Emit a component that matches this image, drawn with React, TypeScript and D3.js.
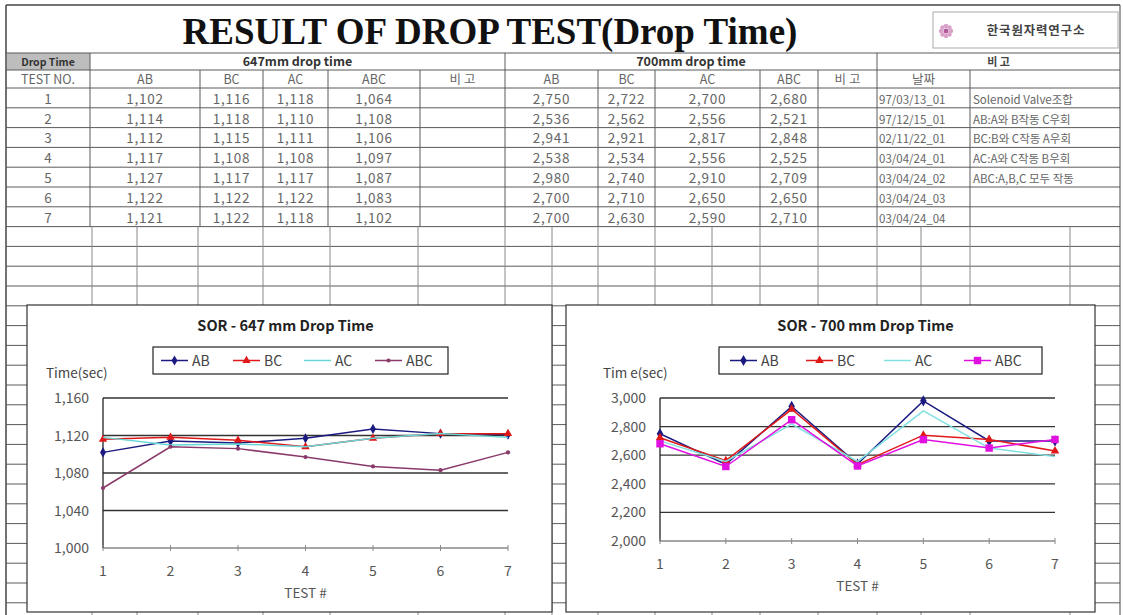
import React from "react";
import * as d3 from "d3";

// ---------- data ----------
const tests = [1, 2, 3, 4, 5, 6, 7];
const seriesNames = ["AB", "BC", "AC", "ABC"];
const ab647 = [1.102, 1.114, 1.112, 1.117, 1.127, 1.122, 1.121];
const bc647 = [1.116, 1.118, 1.115, 1.108, 1.117, 1.122, 1.122];
const ac647 = [1.118, 1.11, 1.111, 1.108, 1.117, 1.122, 1.118];
const abc647 = [1.064, 1.108, 1.106, 1.097, 1.087, 1.083, 1.102];
const ab700 = [2.75, 2.536, 2.941, 2.538, 2.98, 2.7, 2.7];
const bc700 = [2.722, 2.562, 2.921, 2.534, 2.74, 2.71, 2.63];
const ac700 = [2.7, 2.556, 2.817, 2.556, 2.91, 2.65, 2.59];
const abc700 = [2.68, 2.521, 2.848, 2.525, 2.709, 2.65, 2.71];
const dates = ["97/03/13_01", "97/12/15_01", "02/11/22_01", "03/04/24_01", "03/04/24_02", "03/04/24_03", "03/04/24_04"];
const notes = ["Solenoid Valve조합", "AB:A와 B작동 C우회", "BC:B와 C작동 A우회", "AC:A와 C작동 B우회", "ABC:A,B,C 모두 작동", "", ""];
const yTicks647 = [1.0, 1.04, 1.08, 1.12, 1.16];
const yTicks700 = [2.0, 2.2, 2.4, 2.6, 2.8, 3.0];

const FONT = "'Noto Sans CJK KR', 'Noto Sans', sans-serif";
const fmt = (v: number) => d3.format(".3f")(v).replace(".", ",");

// ---------- table layout ----------
const X0 = 6, X1 = 1120;
const colX = [6, 90, 200, 263, 328, 420, 505, 598, 655, 760, 818, 877, 970, 1120];
const lowerColX = [6, 92, 137, 198, 263, 330, 418, 505, 552, 598, 655, 712, 760, 818, 877, 921, 970, 1070, 1120];
const H0 = 53, H1 = 70, H2 = 88, RH = 19.8;
const rowLines = d3.range(H2, 616, RH);
const dataEnd = H2 + 7 * RH;

const LINE = "#5a5a5a";
const TXT = "#666";

function Table() {
  const cx = (i: number) => (colX[i] + colX[i + 1]) / 2;
  const header2 = ["TEST NO.", "AB", "BC", "AC", "ABC", "비 고", "AB", "BC", "AC", "ABC", "비 고", "날짜", ""];
  const cols647 = [ab647, bc647, ac647, abc647];
  const cols700 = [ab700, bc700, ac700, abc700];
  return (
    <g fontFamily={FONT}>
      {/* outer borders */}
      <line x1={X0} x2={X1} y1={5} y2={5} stroke="#444" strokeWidth={1.5} />
      <line x1={X0} x2={X0} y1={5} y2={615} stroke="#444" strokeWidth={1.5} />
      <line x1={X1} x2={X1} y1={5} y2={615} stroke="#444" strokeWidth={1} />
      {/* title */}
      <text x={490} y={44} textAnchor="middle" fontFamily="'Liberation Serif', serif" fontWeight="bold" fontSize={37} fill="#111">
        RESULT OF DROP TEST(Drop Time)
      </text>
      {/* logo */}
      <rect x={933} y={12} width={185} height={36} fill="#fff" stroke="#aaa" strokeWidth={1} />
      <g transform="translate(946,31)">
        {d3.range(8).map((i) => (
          <circle key={i} cx={5 * Math.cos((i * Math.PI) / 4)} cy={5 * Math.sin((i * Math.PI) / 4)} r={2.2} fill="#d9a0c8" />
        ))}
        <circle r={2.5} fill="#b35a9a" />
      </g>
      <text x={1036} y={35} textAnchor="middle" fontSize={12.5} fontWeight="bold" fill="#444" letterSpacing={0.8}>한국원자력연구소</text>

      {/* header row 1 */}
      <rect x={X0 + 1} y={H0} width={colX[1] - X0 - 1} height={H1 - H0} fill="#bdbdbd" />
      <text x={(X0 + colX[1]) / 2} y={H1 - 4} textAnchor="middle" fontSize={10.5} fontWeight="bold" fill="#333">Drop Time</text>
      <text x={(colX[1] + colX[6]) / 2} y={H1 - 4} textAnchor="middle" fontSize={12.5} fontWeight="bold" fill="#333">647mm drop time</text>
      <text x={(colX[6] + colX[11]) / 2} y={H1 - 4} textAnchor="middle" fontSize={12.5} fontWeight="bold" fill="#333">700mm drop time</text>
      <text x={(colX[11] + colX[13]) / 2} y={H1 - 4} textAnchor="middle" fontSize={11} fontWeight="bold" fill="#444">비 고</text>

      {/* header row 2 */}
      {header2.map((h, i) => (
        <text key={i} x={cx(i)} y={H2 - 4} textAnchor="middle" fontSize={12.5} fill={TXT}>{h}</text>
      ))}

      {/* data rows */}
      {tests.map((t, r) => {
        const y = H2 + (r + 1) * RH - 4;
        return (
          <g key={t} fontSize={13.5} fill={TXT}>
            <text x={cx(0)} y={y} textAnchor="middle">{t}</text>
            {cols647.map((c, j) => (
              <text key={"a" + j} x={cx(1 + j)} y={y} textAnchor="middle" letterSpacing={0.8}>{fmt(c[r])}</text>
            ))}
            {cols700.map((c, j) => (
              <text key={"b" + j} x={cx(6 + j)} y={y} textAnchor="middle" letterSpacing={0.8}>{fmt(c[r])}</text>
            ))}
            <text x={colX[11] + 2} y={y} fontSize={11.5}>{dates[r]}</text>
            <text x={colX[12] + 3} y={y} fontSize={11.5}>{notes[r]}</text>
          </g>
        );
      })}

      {/* horizontal lines */}
      {[H0, H1, ...rowLines].map((y, i) => (
        <line key={i} x1={X0} x2={X1} y1={y} y2={y} stroke={LINE} strokeWidth={1} />
      ))}
      {/* vertical lines header row 1 */}
      {[colX[1], colX[6], colX[11]].map((x, i) => (
        <line key={i} x1={x} x2={x} y1={H0} y2={H1} stroke={LINE} strokeWidth={1} />
      ))}
      {/* vertical lines rows */}
      {colX.slice(1, -1).map((x, i) => (
        <line key={i} x1={x} x2={x} y1={H1} y2={dataEnd} stroke={LINE} strokeWidth={1} />
      ))}
      {lowerColX.slice(1, -1).map((x, i) => (
        <line key={i} x1={x} x2={x} y1={dataEnd} y2={615} stroke="#888" strokeWidth={1} />
      ))}
    </g>
  );
}

// ---------- charts ----------
type Series = { name: string; values: number[]; color: string; marker: any; size: number };

function markerPath(type: any, size: number) {
  return d3.symbol().type(type).size(size)() as string;
}

function Chart(props: {
  box: [number, number, number, number];
  plot: { l: number; t: number; r: number; b: number };
  yTicks: number[];
  title: string;
  yTitle: string;
  legend: { x: number; y: number; w: number; h: number; items: number[] };
  series: Series[];
}) {
  const { box, plot, yTicks, title, yTitle, legend, series } = props;
  const x = d3.scalePoint<number>().domain(tests).range([plot.l, plot.r]);
  const y = d3.scaleLinear().domain([yTicks[0], yTicks[yTicks.length - 1]]).range([plot.b, plot.t]);
  const line = d3
    .line<number>()
    .x((_, i) => x(tests[i]) as number)
    .y((d) => y(d));
  const [bx, by, bw, bh] = box;
  return (
    <g fontFamily={FONT}>
      <rect x={bx} y={by} width={bw} height={bh} fill="#fff" stroke="#333" strokeWidth={1.2} />
      <text x={(legend.x + legend.x + legend.w) / 2 - 15} y={by + 26} textAnchor="middle" fontSize={14.5} fontWeight="bold" fill="#222">{title}</text>
      {/* legend */}
      <rect x={legend.x} y={legend.y} width={legend.w} height={legend.h} fill="#fff" stroke="#222" strokeWidth={1.2} />
      {series.map((s, i) => {
        const lx = legend.items[i];
        const ly = legend.y + legend.h / 2;
        return (
          <g key={s.name}>
            <line x1={lx} x2={lx + 27} y1={ly} y2={ly} stroke={s.color} strokeWidth={1.5} />
            {s.marker && <path d={markerPath(s.marker, s.size)} transform={`translate(${lx + 13.5},${ly})`} fill={s.color} />}
            <text x={lx + 31} y={ly + 5} fontSize={14} fill="#444">{s.name}</text>
          </g>
        );
      })}
      <text x={plot.l - 57} y={plot.t - 20} fontSize={13.5} fill="#444">{yTitle}</text>
      {/* gridlines */}
      {yTicks.map((t, i) => (
        <g key={t}>
          <line x1={plot.l} x2={plot.r} y1={y(t)} y2={y(t)} stroke={i === 0 ? "#888" : "#333"} strokeWidth={1.3} />
          <text x={plot.l - 14} y={y(t) + 5} textAnchor="end" fontSize={14} fill="#555">{fmt(t)}</text>
        </g>
      ))}
      {/* axes */}
      <line x1={plot.l} x2={plot.l} y1={plot.t} y2={plot.b} stroke="#222" strokeWidth={1.3} />
      {tests.map((t) => (
        <g key={t}>
          <line x1={x(t)} x2={x(t)} y1={plot.b - 3} y2={plot.b + 3} stroke="#888" strokeWidth={1} />
          <text x={x(t)} y={plot.b + 28} textAnchor="middle" fontSize={14} fill="#555">{t}</text>
        </g>
      ))}
      <text x={(plot.l + plot.r) / 2} y={plot.b + 50} textAnchor="middle" fontSize={13.5} fill="#555">TEST #</text>
      {/* series */}
      {series.map((s) => (
        <g key={s.name}>
          <path d={line(s.values) as string} fill="none" stroke={s.color} strokeWidth={1.5} />
          {s.marker &&
            s.values.map((v, i) => (
              <path key={i} d={markerPath(s.marker, s.size)} transform={`translate(${x(tests[i])},${y(v)})`} fill={s.color} />
            ))}
        </g>
      ))}
    </g>
  );
}

export default function App() {
  const s647: Series[] = [
    { name: seriesNames[0], values: ab647, color: "#1a1a80", marker: d3.symbolDiamond, size: 30 },
    { name: seriesNames[1], values: bc647, color: "#e01818", marker: d3.symbolTriangle, size: 30 },
    { name: seriesNames[2], values: ac647, color: "#66d6d6", marker: null, size: 0 },
    { name: seriesNames[3], values: abc647, color: "#8a3a6a", marker: d3.symbolCircle, size: 14 },
  ];
  const s700: Series[] = [
    { name: seriesNames[0], values: ab700, color: "#1a1a80", marker: d3.symbolDiamond, size: 36 },
    { name: seriesNames[1], values: bc700, color: "#e01818", marker: d3.symbolTriangle, size: 32 },
    { name: seriesNames[2], values: ac700, color: "#7fe0e0", marker: null, size: 0 },
    { name: seriesNames[3], values: abc700, color: "#e010e0", marker: d3.symbolSquare, size: 55 },
  ];
  return (
    <div style={{ position: "absolute", left: 0, top: 0 }}>
      <svg width={1123} height={615} style={{ display: "block", background: "#fff" }}>
        <Table />
        <Chart
          box={[27, 305, 525, 307]}
          plot={{ l: 103, t: 398, r: 508, b: 548 }}
          yTicks={yTicks647}
          title="SOR - 647 mm Drop Time"
          yTitle="Time(sec)"
          legend={{ x: 153, y: 347, w: 295, h: 27, items: [161, 233, 304, 375] }}
          series={s647}
        />
        <Chart
          box={[566, 305, 529, 307]}
          plot={{ l: 660, t: 398, r: 1055, b: 541 }}
          yTicks={yTicks700}
          title="SOR - 700 mm Drop Time"
          yTitle="Tim e(sec)"
          legend={{ x: 719, y: 347, w: 323, h: 27, items: [730, 806, 884, 964] }}
          series={s700}
        />
      </svg>
    </div>
  );
}
